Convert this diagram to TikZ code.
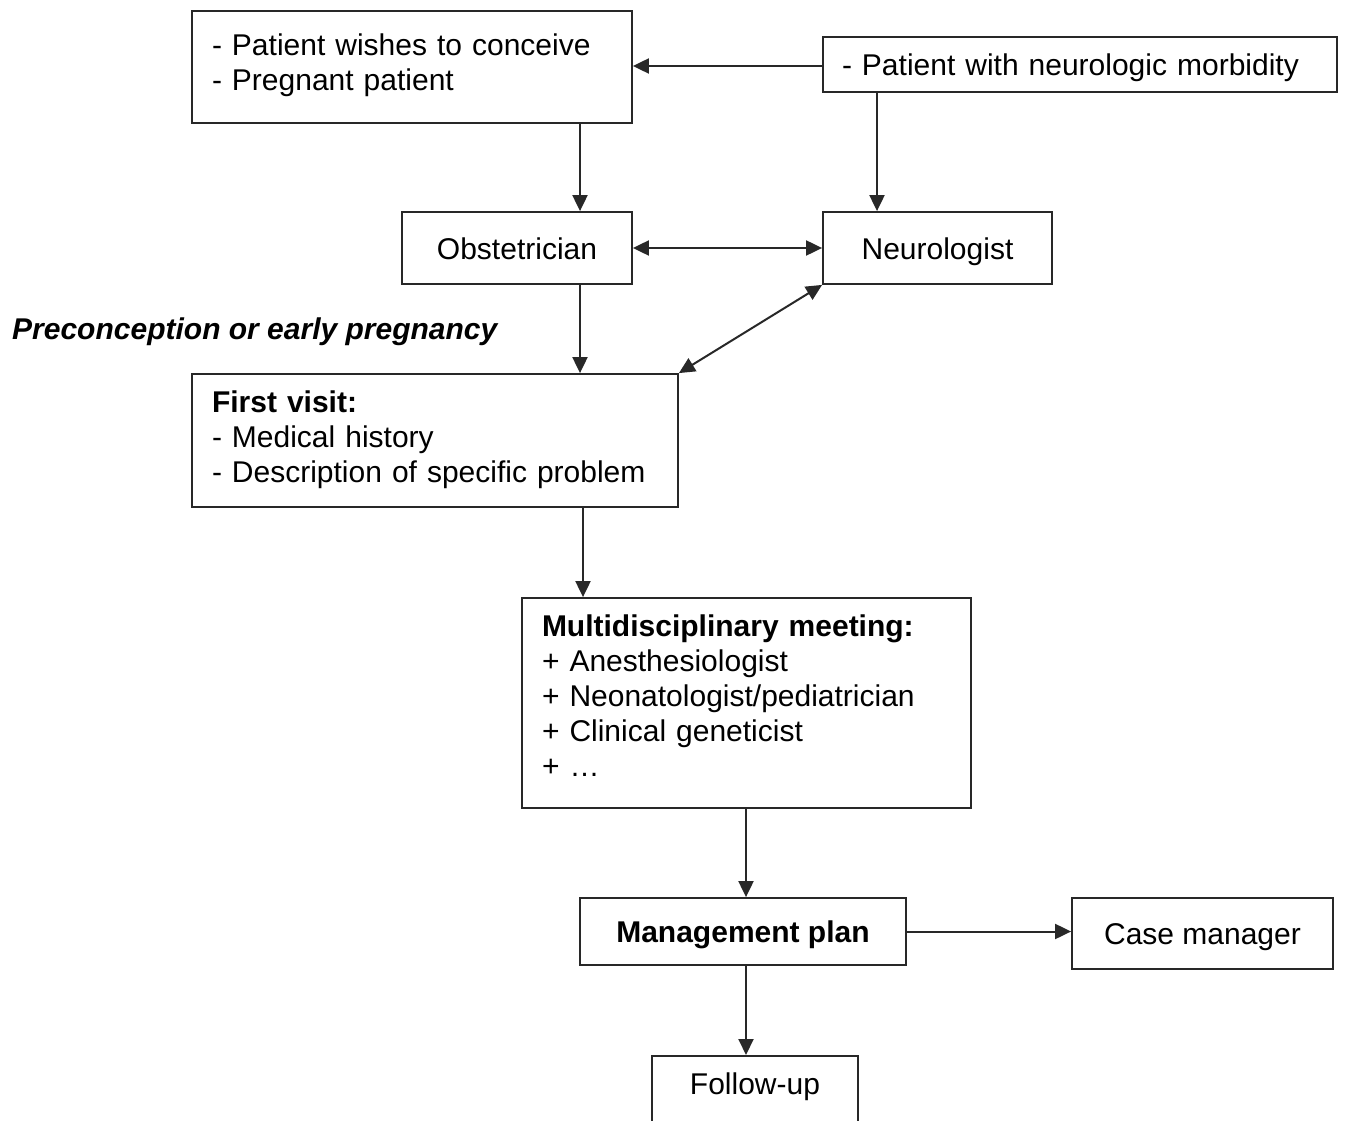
\documentclass[tikz,border=0pt]{standalone}
\usepackage{fontspec}
\setmainfont{Liberation Sans}
\usetikzlibrary{arrows.meta}
\definecolor{linec}{RGB}{40,40,40}
\begin{document}
\begin{tikzpicture}[x=1pt,y=-1pt,
  box/.style={draw=linec, line width=1.8pt, fill=white, inner sep=0pt, font=\fontsize{30}{35}\selectfont, text=black},
  single/.style={box, text height=23pt, text depth=1pt, align=center},
  multi/.style={box, align=left, inner xsep=20pt, text height=23pt},
  arr/.style={draw=linec, line width=2pt, -{Triangle[length=16pt,width=15pt]}},
  darr/.style={draw=linec, line width=2pt, {Triangle[length=16pt,width=15pt]}-{Triangle[length=16pt,width=15pt]}},
]
\path[use as bounding box] (0,0) rectangle (1347,1121);
\clip (0,0) rectangle (1347,1121);

% column coordinates
\coordinate (xa) at (580,0);
\coordinate (xb) at (877,0);
\coordinate (xc) at (583,0);
\coordinate (xd) at (746,0);
\coordinate (ya) at (0,66);

% boxes
\node[multi, minimum width=440pt, minimum height=112pt, text width=400pt, text depth=45pt] (wish) at (412,67)
  {- Patient wishes to conceive\\- Pregnant patient};
\node[box, align=left, inner xsep=19pt, minimum width=514pt, minimum height=55pt, text width=476pt, text height=23pt, text depth=1pt] (morb) at (1080,64.5)
  {- Patient with neurologic morbidity};
\node[single, minimum width=230pt, minimum height=72pt] (obst) at (517,248) {Obstetrician};
\node[single, minimum width=229pt, minimum height=72pt] (neuro) at (937.5,248) {Neurologist};
\node[font=\fontsize{30}{35}\selectfont\bfseries\itshape, anchor=west, inner sep=0pt, text height=23pt, text depth=1pt] (lbl) at (12,328)
  {Preconception or early pregnancy};
\node[multi, minimum width=486pt, minimum height=133pt, text width=446pt, text depth=80pt] (fv) at (435,440.5)
  {\textbf{First visit:}\\- Medical history\\- Description of specific problem};
\node[multi, minimum width=449pt, minimum height=210pt, text width=409pt, text depth=157pt] (mdm) at (746.5,703)
  {\textbf{Multidisciplinary meeting:}\\+ Anesthesiologist\\+ Neonatologist/pediatrician\\+ Clinical geneticist\\+ …};
\node[single, minimum width=326pt, minimum height=67pt, font=\fontsize{30}{35}\selectfont\bfseries] (mgmt) at (743,931.5) {Management plan};
\node[single, minimum width=261pt, minimum height=71pt] (case) at (1202.5,933.5) {Case manager};
\node[box, anchor=north, minimum width=206pt, inner ysep=8pt, text height=31pt, text depth=48pt] (fu) at (755,1055) {Follow-up};

% connectors
\draw[arr] (morb.west |- ya) -- (wish.east |- ya);
\draw[arr] (wish.south -| xa) -- (obst.north -| xa);
\draw[arr] (morb.south -| xb) -- (neuro.north -| xb);
\draw[darr] (obst.east) -- (neuro.west);
\draw[arr] (obst.south -| xa) -- (fv.north -| xa);
\draw[darr] (neuro.south west) -- (fv.north east);
\draw[arr] (fv.south -| xc) -- (mdm.north -| xc);
\draw[arr] (mdm.south -| xd) -- (mgmt.north -| xd);
\draw[arr] (mgmt.east) -- (mgmt.east -| case.west);
\draw[arr] (mgmt.south -| xd) -- (fu.north -| xd);
\end{tikzpicture}
\end{document}
